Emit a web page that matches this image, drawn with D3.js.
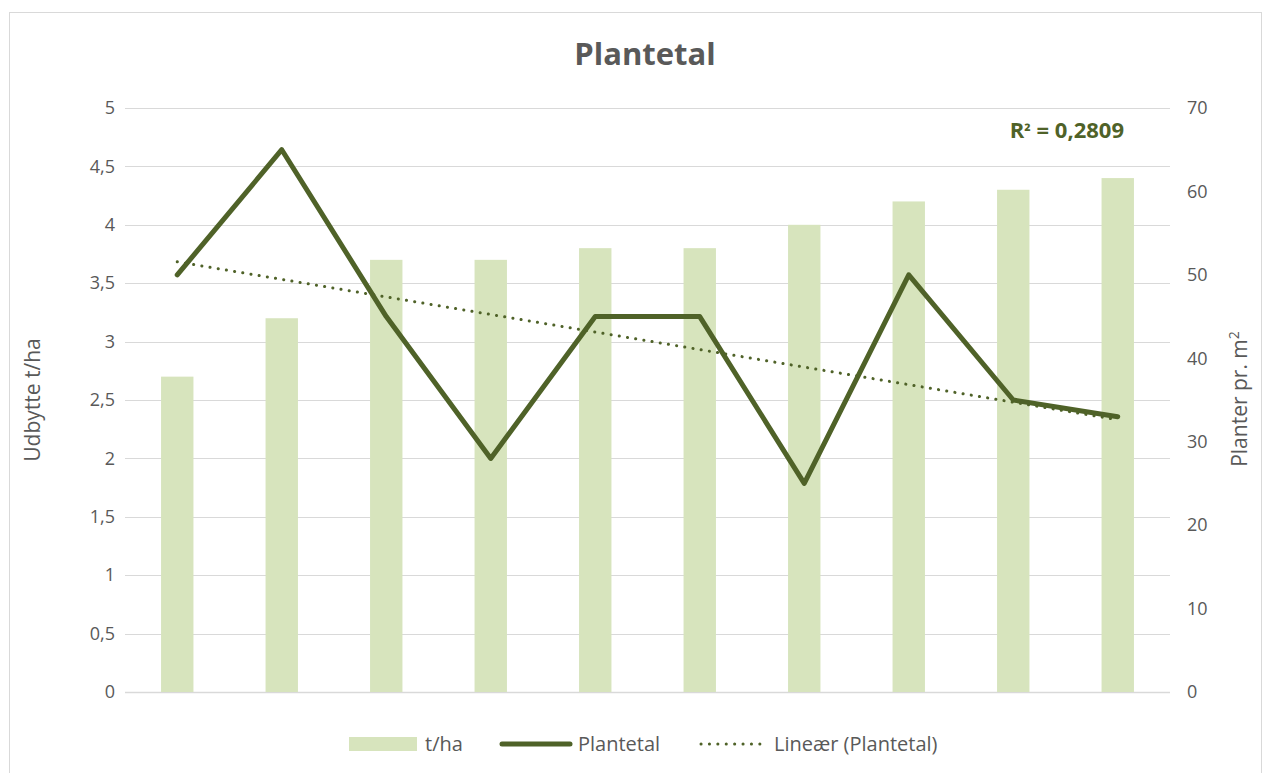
<!DOCTYPE html>
<html>
<head>
<meta charset="utf-8">
<script src="https://cdn.jsdelivr.net/npm/d3@7"></script>
<style>
  body { margin: 0; background: #fff; overflow: hidden; }
  #chart { position: relative; width: 1269px; height: 773px; }
  #frame { position: absolute; left: 9px; top: 12px; width: 1251px; height: 770px;
           border: 1px solid #d9d9d9; border-bottom: none; pointer-events: none; }
  svg { display: block; }
  text { font-family: "Open Sans", "Noto Sans", sans-serif; }
</style>
</head>
<body>
<div id="chart"><div id="frame"></div></div>
<script>
// Data
const categories = ["1", "2", "3", "4", "5", "6", "7", "8", "9", "10"];
const yieldValues = [2.7, 3.2, 3.7, 3.7, 3.8, 3.8, 4.0, 4.2, 4.3, 4.4];
const plantValues = [50, 65, 45, 28, 45, 45, 25, 50, 35, 33];
const leftTicks = [0, 0.5, 1, 1.5, 2, 2.5, 3, 3.5, 4, 4.5, 5];
const rightTicks = [0, 10, 20, 30, 40, 50, 60, 70];

const width = 1269, height = 773;
const margin = { top: 108, right: 99, bottom: 81, left: 125 };
const innerWidth = width - margin.left - margin.right;
const innerHeight = height - margin.top - margin.bottom;

const textColor = "#595959";
const gridColor = "#d9d9d9";
const barColor = "#d7e4bd";
const lineColor = "#4f6228";

const svg = d3.select("#chart")
    .append("svg")
    .attr("width", width)
    .attr("height", height);

const g = svg.append("g")
    .attr("transform", `translate(${margin.left},${margin.top})`);

// Scales
const x = d3.scaleBand()
    .domain(categories)
    .range([0, innerWidth])
    .paddingInner(0.69)
    .paddingOuter(0.345);

const xPoint = d => x(d) + x.bandwidth() / 2;

const yLeft = d3.scaleLinear().domain([0, 5]).range([innerHeight, 0]);
const yRight = d3.scaleLinear().domain([0, 70]).range([innerHeight, 0]);

const fmt = d => String(d).replace(".", ",");

// Gridlines
g.append("g")
    .selectAll("line")
    .data(leftTicks)
    .join("line")
    .attr("x1", 0)
    .attr("x2", innerWidth)
    .attr("y1", d => Math.round(yLeft(d)) + 0.5)
    .attr("y2", d => Math.round(yLeft(d)) + 0.5)
    .attr("stroke", gridColor)
    .attr("stroke-width", d => d === 0 ? 1.5 : 1);

// Left axis
const leftAxis = g.append("g")
    .call(d3.axisLeft(yLeft).tickValues(leftTicks).tickFormat(fmt).tickSize(0).tickPadding(10))
    .attr("font-size", 18)
    .attr("font-family", null);
leftAxis.select(".domain").remove();
leftAxis.selectAll("text")
    .style("font-size", "18px")
    .style("fill", textColor);

// Right axis
const rightAxis = g.append("g")
    .attr("transform", `translate(${innerWidth},0)`)
    .call(d3.axisRight(yRight).tickValues(rightTicks).tickSize(0).tickPadding(17))
    .attr("font-size", 18)
    .attr("font-family", null);
rightAxis.select(".domain").remove();
rightAxis.selectAll("text")
    .style("font-size", "18px")
    .style("fill", textColor);

// Bars
g.append("g")
    .selectAll("rect")
    .data(categories)
    .join("rect")
    .attr("x", d => x(d))
    .attr("y", (d, i) => yLeft(yieldValues[i]))
    .attr("width", x.bandwidth())
    .attr("height", (d, i) => innerHeight - yLeft(yieldValues[i]))
    .attr("fill", barColor);

// Linear trend of plant values (least squares)
const xs = plantValues.map((d, i) => i + 1);
const mx = d3.mean(xs), my = d3.mean(plantValues);
const sxy = d3.sum(xs, (v, i) => (v - mx) * (plantValues[i] - my));
const sxx = d3.sum(xs, v => (v - mx) ** 2);
const syy = d3.sum(plantValues, v => (v - my) ** 2);
const slope = sxy / sxx;
const intercept = my - slope * mx;
const r2 = (sxy * sxy) / (sxx * syy);

g.append("line")
    .attr("x1", xPoint(categories[0]))
    .attr("x2", xPoint(categories[categories.length - 1]))
    .attr("y1", yRight(intercept + slope * 1))
    .attr("y2", yRight(intercept + slope * categories.length))
    .attr("stroke", lineColor)
    .attr("stroke-width", 3)
    .attr("stroke-linecap", "round")
    .attr("stroke-dasharray", "0.1 8.2");

// Plantetal line
const line = d3.line()
    .x((d, i) => xPoint(categories[i]))
    .y(d => yRight(d));

g.append("path")
    .datum(plantValues)
    .attr("d", line)
    .attr("fill", "none")
    .attr("stroke", lineColor)
    .attr("stroke-width", 5)
    .attr("stroke-linejoin", "round")
    .attr("stroke-linecap", "round");

// R² label
const r2Label = g.append("text")
    .attr("x", innerWidth - 46)
    .attr("y", 30)
    .attr("text-anchor", "end")
    .style("font-size", "22px")
    .style("font-weight", "bold")
    .style("fill", lineColor);
r2Label.append("tspan").text("R");
r2Label.append("tspan").style("font-size", "17px").text("²");
r2Label.append("tspan").text(` = ${r2.toFixed(4).replace(".", ",")}`);

// Title
svg.append("text")
    .attr("x", 645)
    .attr("y", 65)
    .attr("text-anchor", "middle")
    .style("font-size", "31px")
    .style("font-weight", "bold")
    .style("fill", textColor)
    .text("Plantetal");

// Axis titles
svg.append("text")
    .attr("transform", "translate(40,400) rotate(-90)")
    .attr("text-anchor", "middle")
    .style("font-size", "21px")
    .style("fill", textColor)
    .text("Udbytte t/ha");

const rt = svg.append("text")
    .attr("transform", "translate(1247,399) rotate(-90)")
    .attr("text-anchor", "middle")
    .style("font-size", "21px")
    .style("fill", textColor);
rt.append("tspan").text("Planter pr. m");
rt.append("tspan").attr("dy", "-8").style("font-size", "14px").text("2");

// Legend
const legend = svg.append("g").attr("transform", "translate(0,744)");

legend.append("rect")
    .attr("x", 349).attr("y", -7)
    .attr("width", 68).attr("height", 14)
    .attr("fill", barColor);
legend.append("text")
    .attr("x", 425).attr("y", 7)
    .style("font-size", "20px").style("fill", textColor)
    .text("t/ha");

legend.append("line")
    .attr("x1", 502).attr("x2", 570)
    .attr("y1", 0).attr("y2", 0)
    .attr("stroke", lineColor).attr("stroke-width", 5)
    .attr("stroke-linecap", "round");
legend.append("text")
    .attr("x", 578).attr("y", 7)
    .style("font-size", "20px").style("fill", textColor)
    .text("Plantetal");

legend.append("line")
    .attr("x1", 701).attr("x2", 768)
    .attr("y1", 0).attr("y2", 0)
    .attr("stroke", lineColor).attr("stroke-width", 3)
    .attr("stroke-linecap", "round")
    .attr("stroke-dasharray", "0.1 8.3");
legend.append("text")
    .attr("x", 774).attr("y", 7)
    .style("font-size", "20px").style("fill", textColor)
    .text("Lineær (Plantetal)");
</script>
</body>
</html>
